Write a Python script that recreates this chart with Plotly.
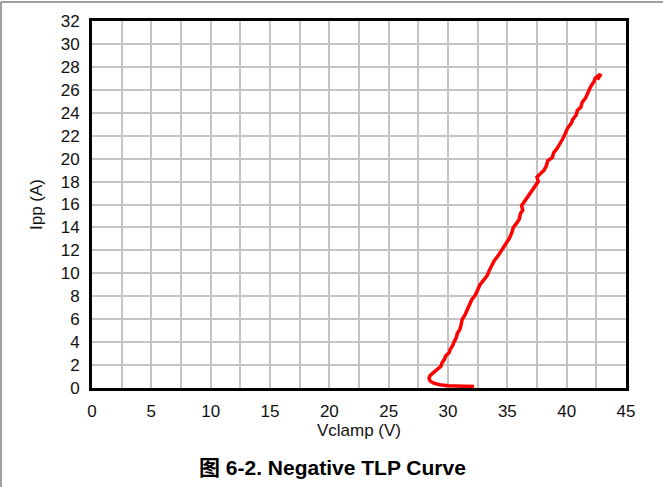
import plotly.graph_objects as go

# TLP curve data (Vclamp in V, Ipp in A)
vclamp = [32.2, 31.5, 30.8, 30.0, 29.3, 28.8, 28.5, 28.4, 28.5, 28.8, 29.1, 29.4,
          29.5, 29.7, 29.8, 30.1, 30.2, 30.4, 30.5, 30.7, 30.8, 31.0, 31.1, 31.2,
          31.4, 31.6, 31.8, 32.0, 32.3, 32.5, 32.7, 33.0, 33.3, 33.5, 33.7, 33.9,
          34.2, 34.5, 34.8, 35.0, 35.2, 35.4, 35.5, 35.8, 36.0, 36.1, 36.3, 36.2,
          36.4, 36.7, 36.9, 37.1, 37.3, 37.6, 37.5, 37.8, 38.1, 38.3, 38.4, 38.8,
          38.9, 39.2, 39.4, 39.6, 39.8, 40.0, 40.1, 40.4, 40.5, 40.8, 40.9, 41.2,
          41.3, 41.6, 41.7, 41.9, 42.1, 42.3, 42.4, 42.6, 42.8, 42.6, 42.8, 42.9]
ipp = [0.12, 0.14, 0.16, 0.2, 0.28, 0.42, 0.6, 0.85, 1.1, 1.35, 1.6, 1.9,
       2.2, 2.5, 2.8, 3.1, 3.4, 3.7, 4.0, 4.4, 4.8, 5.1, 5.5, 6.0,
       6.3, 6.8, 7.2, 7.7, 8.1, 8.6, 9.0, 9.4, 9.8, 10.3, 10.7, 11.1,
       11.5, 12.0, 12.4, 12.8, 13.1, 13.6, 14.0, 14.4, 14.7, 15.2, 15.5, 15.9,
       16.2, 16.6, 17.0, 17.3, 17.6, 18.0, 18.4, 18.7, 19.0, 19.4, 19.8, 20.1,
       20.5, 20.9, 21.2, 21.6, 22.0, 22.4, 22.7, 23.1, 23.4, 23.8, 24.2, 24.5,
       24.9, 25.3, 25.6, 26.0, 26.4, 26.7, 27.0, 27.2, 27.35, 26.9, 27.3, 27.4]

x_ticks = [0, 5, 10, 15, 20, 25, 30, 35, 40, 45]
y_ticks = list(range(0, 33, 2))

fig = go.Figure()
fig.add_trace(go.Scatter(x=vclamp, y=ipp, mode="lines",
                         line=dict(color="#ff0000", width=3.5), showlegend=False))

font = "Liberation Sans, Arial, sans-serif"
L, R, T, B = 92, 626, 21, 388
pw, ph = R - L, B - T
fig.update_layout(
    width=663, height=487,
    margin=dict(l=L, r=663 - R, t=T, b=487 - B),
    paper_bgcolor="white", plot_bgcolor="white",
    font=dict(family=font, size=17, color="#111111"),
    xaxis=dict(range=[0, 45], tickvals=x_ticks, ticktext=[str(v) for v in x_ticks],
               showgrid=False,
               minor=dict(dtick=2.5, showgrid=True, gridcolor="#c4c4c4", gridwidth=1.5),
               showline=True, linecolor="black", linewidth=3, mirror=True,
               ticks="outside", ticklen=6, tickcolor="rgba(0,0,0,0)",
               zeroline=False,
               title=dict(text="Vclamp (V)", standoff=3, font=dict(size=17))),
    yaxis=dict(range=[0, 32], tickvals=y_ticks, ticktext=[str(v) for v in y_ticks],
               showgrid=True, gridcolor="#c4c4c4", gridwidth=1.5,
               showline=True, linecolor="black", linewidth=3, mirror=True,
               ticks="outside", ticklen=6, tickcolor="rgba(0,0,0,0)",
               zeroline=False,
               title=dict(text="Ipp (A)", standoff=14, font=dict(size=17))),
    annotations=[dict(text="<b>图 6-2. Negative TLP Curve</b>", xref="paper", yref="paper",
                      x=(332 - L) / pw, y=(B - 467) / ph, xanchor="center", yanchor="middle",
                      showarrow=False, font=dict(size=21, color="black",
                                                 family="Liberation Sans, Noto Sans CJK SC, sans-serif"))],
    shapes=[
        dict(type="line", xref="paper", yref="paper", x0=(1 - L) / pw, x1=(663 - L) / pw,
             y0=(B - 2) / ph, y1=(B - 2) / ph, line=dict(color="#808080", width=1.5)),
        dict(type="line", xref="paper", yref="paper", x0=(1 - L) / pw, x1=(1 - L) / pw,
             y0=(B - 2) / ph, y1=(B - 487) / ph, line=dict(color="#808080", width=1.5)),
    ],
)

fig.write_html("out.html", config={"displayModeBar": False},
               post_script="document.body.style.margin='0';document.body.style.overflow='hidden';")
